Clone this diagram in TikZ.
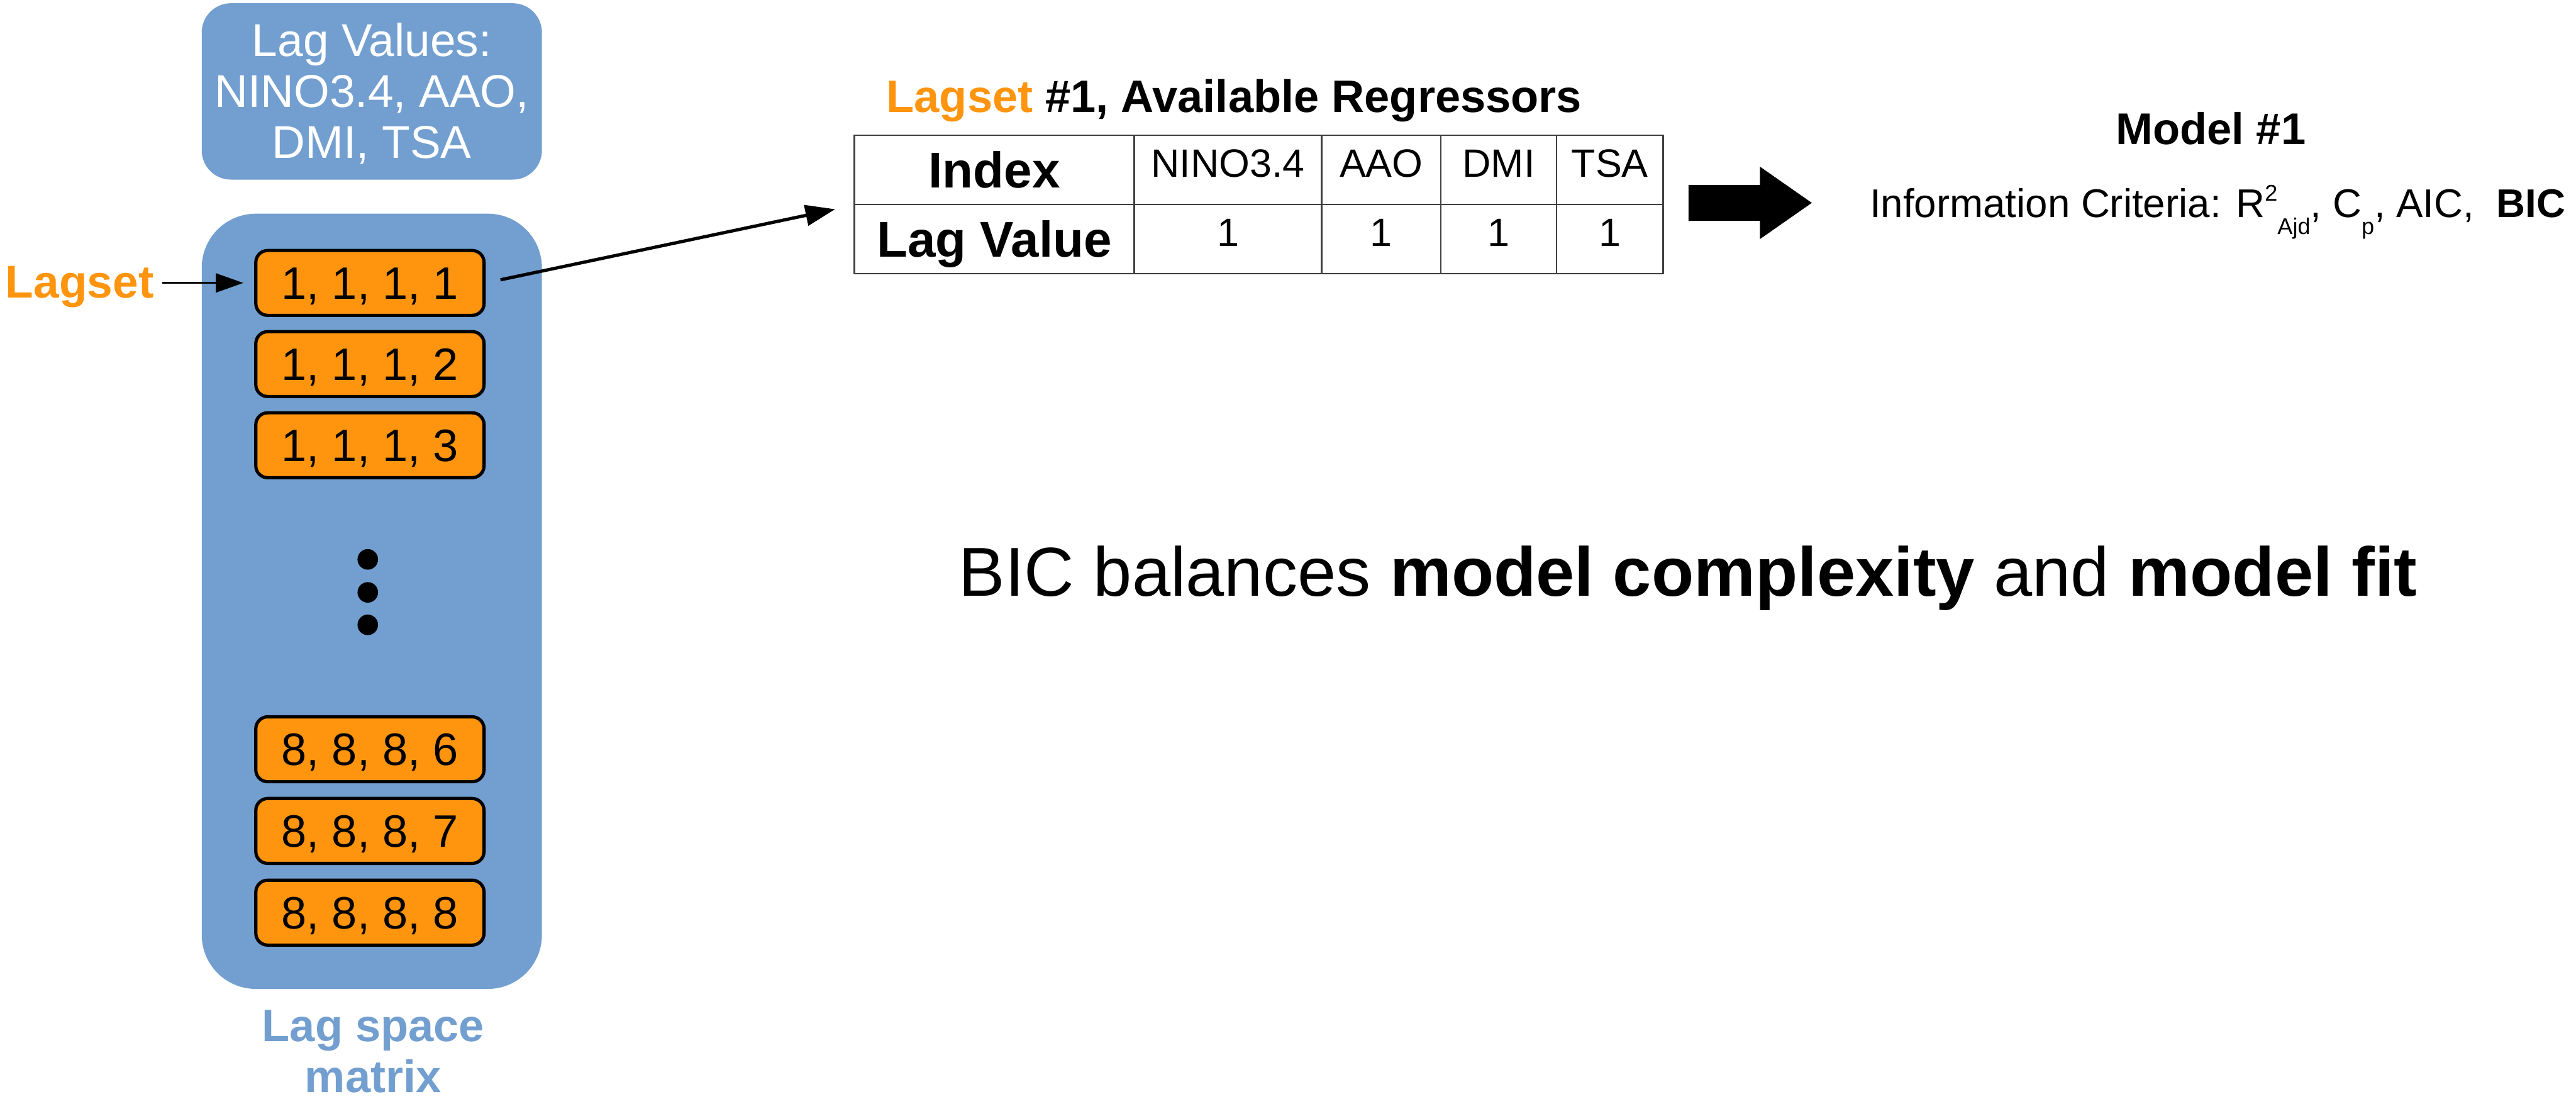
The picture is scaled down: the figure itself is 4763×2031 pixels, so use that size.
\documentclass[tikz,border=0pt]{standalone}
\usepackage{fontspec}
\setmainfont{Liberation Sans}
\usetikzlibrary{arrows.meta}
\definecolor{lblue}{HTML}{729FCF}
\definecolor{lorange}{HTML}{FF950E}
\newcommand\fsz[1]{\fontsize{#1}{#1}\selectfont}
\newcommand\supx[1]{\raisebox{31pt}{\fsz{42}#1}}
\newcommand\subx[1]{\raisebox{-31pt}{\fsz{42}#1}}
\begin{document}
\begin{tikzpicture}[x=1pt,y=-1pt,
  bluebg/.style={fill=lblue, draw=none, inner sep=0pt, outer sep=0pt},
  lagbox/.style={fill=lorange, draw=black, line width=6pt, rounded corners=22pt,
    minimum width=422pt, minimum height=120pt, inner sep=0pt,
    text height=60pt, text depth=0pt, font=\fsz{84}},
  dotc/.style={circle, fill=black, minimum size=38pt, inner sep=0pt},
  whitetxt/.style={anchor=base, text=white, inner sep=0pt, font=\fsz{85}},
  thinarr/.style={line width=4pt, -{Triangle[length=51pt,width=35pt]}},
  cellb/.style={draw=black!75, line width=3pt, minimum height=128pt, inner sep=0pt,
    text height=66.6pt, text depth=0pt, font=\fsz{93}\bfseries},
  cellr/.style={draw=black!75, line width=3pt, minimum height=128pt, inner sep=0pt,
    text height=52pt, text depth=26pt, font=\fsz{73}},
  txt/.style={inner sep=0pt}
]
\useasboundingbox (0,0) rectangle (4763,2031);

% left blue boxes
\node[bluebg, rounded corners=54pt, minimum width=629pt, minimum height=326pt] (lagvals) at (687.5,169) {};
\node[whitetxt] (lv1) at (687.5,103.6) {Lag Values:};
\node[whitetxt] (lv2) at (687.5,198) {NINO3.4, AAO,};
\node[whitetxt] (lv3) at (687.5,293) {DMI, TSA};

\node[bluebg, rounded corners=100pt, minimum width=629pt, minimum height=1433pt] (lagspace) at (687.5,1111.5) {};

\node[lagbox] (b1) at (684,523) {1, 1, 1, 1};
\node[lagbox] (b2) at (684,673) {1, 1, 1, 2};
\node[lagbox] (b3) at (684,823) {1, 1, 1, 3};
\node[lagbox] (b4) at (684,1385) {8, 8, 8, 6};
\node[lagbox] (b5) at (684,1536) {8, 8, 8, 7};
\node[lagbox] (b6) at (684,1687) {8, 8, 8, 8};

\node[dotc] (d1) at (680,1034) {};
\node[dotc] (d2) at (680,1095) {};
\node[dotc] (d3) at (680,1155) {};

\node[txt, anchor=base, text=lblue, font=\fsz{84}\bfseries] (lsm1) at (690,1925) {Lag space};
\node[txt, anchor=base, text=lblue, font=\fsz{84}\bfseries] (lsm2) at (690,2019) {matrix};

% Lagset label
\node[txt, anchor=base west, text=lorange, font=\fsz{85}\bfseries] (lagsetlbl) at (10,551) {Lagset};
\draw[thinarr, shorten <=16pt, shorten >=20pt] (lagsetlbl.east |- b1.west) -- (b1.west);

% table
\node[txt, anchor=base west, font=\fsz{84}\bfseries] (title) at (1639,207) {\textcolor{lorange}{Lagset} \#1, Available Regressors};
\node[cellb, minimum width=517pt] (c11) at (1838.5,314) {Index};
\node[cellr, minimum width=347pt] (c12) at (2270.5,314) {NINO3.4};
\node[cellr, minimum width=220pt] (c13) at (2554,314) {AAO};
\node[cellr, minimum width=214pt] (c14) at (2771,314) {DMI};
\node[cellr, minimum width=197pt] (c15) at (2976.5,314) {TSA};
\node[cellb, minimum width=517pt] (c21) at (1838.5,442) {Lag Value};
\node[cellr, minimum width=347pt] (c22) at (2270.5,442) {1};
\node[cellr, minimum width=220pt] (c23) at (2554,442) {1};
\node[cellr, minimum width=214pt] (c24) at (2771,442) {1};
\node[cellr, minimum width=197pt] (c25) at (2976.5,442) {1};
\coordinate (tblin) at (c11.south west);

\draw[line width=6pt, -{Triangle[length=55pt,width=38pt]}, shorten <=28pt, shorten >=35pt] (b1.east) -- (tblin);

% block arrow
\fill[black] (3122,342) -- (3254,342) -- (3254,308) -- (3350,375) -- (3254,442) -- (3254,408) -- (3122,408) -- cycle;

% model
\node[txt, anchor=base, font=\fsz{82}\bfseries] (model) at (4088,267) {Model \#1};
\node[txt, anchor=base west, font=\fsz{74}] (info) at (3457,402) {Information Criteria: R\supx{2}\subx{Ajd}, C\subx{p}, AIC,\ \ \textbf{BIC}};

% statement
\node[txt, anchor=base west, font=\fsz{128}] (stmt) at (1773,1102) {BIC balances \textbf{model complexity} and \textbf{model fit}};
\end{tikzpicture}
\end{document}
